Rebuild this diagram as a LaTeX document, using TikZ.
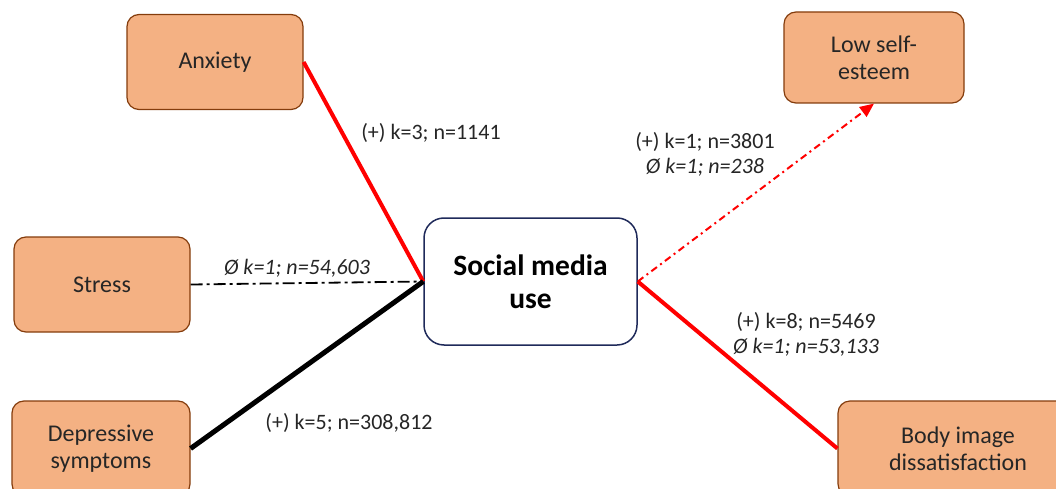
\documentclass[tikz,border=0pt]{standalone}
\usepackage{fontspec}
\setmainfont{Carlito}
\usetikzlibrary{arrows.meta,positioning}
\definecolor{peach}{HTML}{F4B183}
\definecolor{rim}{HTML}{843C0C}
\definecolor{navy}{HTML}{1F2A5A}
\definecolor{ink}{HTML}{262626}

\begin{document}
\begin{tikzpicture}[x=1pt, y=-1pt, >={Triangle[length=14pt, width=12pt]},
	outcome/.style={rectangle, rounded corners=12pt, draw=rim, line width=1.2pt, fill=peach, text=ink, minimum width=176pt, minimum height=95pt, align=center, font=\fontsize{24}{27}\selectfont},
	usage/.style={rectangle, rounded corners=20pt, draw=navy, line width=1.5pt, fill=white, minimum width=213pt, minimum height=127pt, align=center, font=\fontsize{29.5}{33}\selectfont\bfseries},
	stat/.style={align=center, text=ink, font=\fontsize{22}{25}\selectfont},
	posline/.style={red, line width=4pt},
	negline/.style={black, line width=5pt},
	nulline/.style={black, line width=1.8pt, dash pattern=on 12pt off 4pt on 3pt off 4pt}]
	\useasboundingbox (0,0) rectangle (1056,489);
	\node[usage] (smu) at (530.5,281.5)                                      {Social media\\use};
	\node[outcome] (anx) at (215,62)                                         {Anxiety};
	\node[outcome] (str) at (102,284.5)                                      {Stress};
	\node[outcome, minimum width=178pt] (dep) at (101,448.5)                 {Depressive\\symptoms};
	\node[outcome, minimum width=180pt, minimum height=91pt] (lse) at (874,57.5) {Low self-\\esteem};
	\node[outcome, minimum width=240pt] (bid) at (958,448.5)                 {Body image\\dissatisfaction};

	% connectors
	\draw[posline] (anx.east) -- (smu.west);
	\draw[nulline] (str.east) -- (smu.west);
	\draw[negline] (dep.east) -- (smu.west);
	\draw[posline] (smu.east) -- (bid.west);
	\draw[->, red, line width=2pt, dash pattern=on 7pt off 4pt on 2pt off 4pt] (smu.east) -- (lse.south);

	% labels
	\node[stat] (l1) at (431,133)   {(+) k=3; n=1141};
	\node[stat] (l2) at (297,268)   {\itshape Ø k=1; n=54,603};
	\node[stat] (l3) at (349,423)   {(+) k=5; n=308,812};
	\node[stat] (l4) at (705,154)   {(+) k=1; n=3801\\\itshape Ø k=1; n=238};
	\node[stat] (l5) at (806,334)   {(+) k=8; n=5469\\\itshape Ø k=1; n=53,133};
\end{tikzpicture}
\end{document}
